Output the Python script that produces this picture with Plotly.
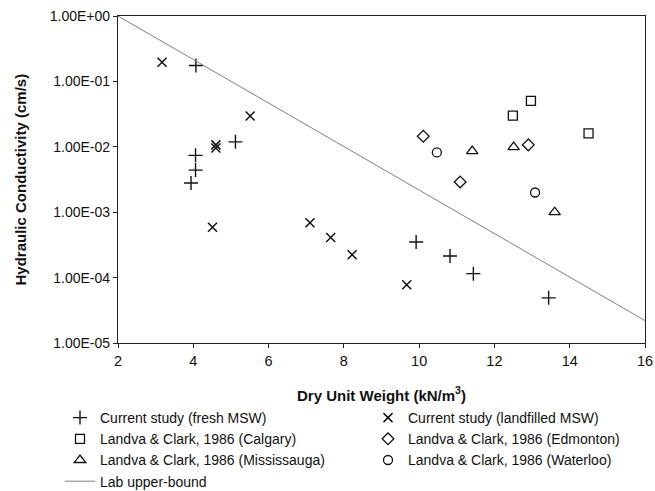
import plotly.graph_objects as go

# Data
fresh_x = [4.07, 4.06, 4.06, 3.94, 5.12, 9.92, 10.82, 11.44, 13.44]
fresh_y = [0.175, 0.0074, 0.0044, 0.0028, 0.0119, 3.5e-4, 2.14e-4, 1.15e-4, 4.9e-5]

landfilled_x = [3.17, 4.6, 4.6, 5.51, 4.51, 7.10, 7.65, 8.22, 9.67]
landfilled_y = [0.196, 0.0107, 0.0096, 0.0296, 5.9e-4, 6.9e-4, 4.1e-4, 2.24e-4, 7.8e-5]

calgary_x = [12.97, 12.49, 14.5]
calgary_y = [0.0505, 0.030, 0.016]

edmonton_x = [10.11, 12.90, 11.09]
edmonton_y = [0.0145, 0.0107, 0.0029]

mississauga_x = [11.41, 12.51, 13.6]
mississauga_y = [0.0086, 0.0099, 0.0010]

waterloo_x = [10.47, 13.08]
waterloo_y = [0.0082, 0.0020]

bound_x = [2, 16]
bound_y = [1.0, 2.2e-5]

y_tickvals = [1, 1e-1, 1e-2, 1e-3, 1e-4, 1e-5]
y_ticktext = ["1.00E+00", "1.00E-01", "1.00E-02", "1.00E-03", "1.00E-04", "1.00E-05"]
x_tickvals = [2, 4, 6, 8, 10, 12, 14, 16]

FONT = "Liberation Sans, Arial, sans-serif"
BLACK = "#111111"

W, H = 655, 491
ML, MR, MT, MB = 118, 10, 16, 148
PW = W - ML - MR

fig = go.Figure()

def add_pts(name, xs, ys, symbol, size, legend, lw=1.3):
    fig.add_trace(go.Scatter(
        x=xs, y=ys, mode="markers", name=name, legend=legend,
        marker=dict(symbol=symbol, size=size, color=BLACK,
                    line=dict(color=BLACK, width=lw)),
    ))

add_pts("Current study (fresh MSW)", fresh_x, fresh_y, "cross-thin-open", 10, "legend", 1.4)
add_pts("Current study (landfilled MSW)", landfilled_x, landfilled_y, "x-thin-open", 9, "legend2", 1.5)
add_pts("Landva & Clark, 1986 (Calgary)", calgary_x, calgary_y, "square-open", 9, "legend")
add_pts("Landva & Clark, 1986 (Edmonton)", edmonton_x, edmonton_y, "diamond-open", 9, "legend2")
add_pts("Landva & Clark, 1986 (Mississauga)", mississauga_x, mississauga_y, "triangle-up-open", 10, "legend")
add_pts("Landva & Clark, 1986 (Waterloo)", waterloo_x, waterloo_y, "circle-open", 9, "legend2")

fig.add_trace(go.Scatter(
    x=bound_x, y=bound_y, mode="lines", name="Lab upper-bound", legend="legend",
    line=dict(color="#808080", width=1),
))

leg_common = dict(
    orientation="v",
    xref="container", yref="container",
    xanchor="left", yanchor="top",
    font=dict(family=FONT, size=14, color=BLACK),
    bgcolor="rgba(0,0,0,0)",
    itemclick=False, itemdoubleclick=False,
    tracegroupgap=0,
)

fig.update_layout(
    width=W, height=H,
    margin=dict(l=ML, r=MR, t=MT, b=MB, autoexpand=False),
    paper_bgcolor="white", plot_bgcolor="white",
    font=dict(family=FONT, size=14, color=BLACK),
    showlegend=True,
    legend=dict(x=60 / W, y=1 - 402 / H, **leg_common),
    legend2=dict(x=368 / W, y=1 - 402 / H, **leg_common),
    xaxis=dict(
        range=[2, 16], tickvals=x_tickvals,
        showgrid=False, zeroline=False,
        showline=True, linecolor="#222222", linewidth=1.3, mirror=True,
        ticks="outside", ticklen=4, tickcolor="#222222",
        ticklabeloverflow="allow",
        tickfont=dict(family=FONT, size=14.5),
        title=dict(text="<b>Dry Unit Weight (kN/m<sup>3</sup>)</b>",
                   font=dict(family=FONT, size=15), standoff=22),
    ),
    yaxis=dict(
        type="log", range=[-5, 0],
        tickvals=y_tickvals, ticktext=y_ticktext,
        showgrid=False, zeroline=False,
        showline=True, linecolor="#222222", linewidth=1.3, mirror=True,
        ticks="outside", ticklen=4, tickcolor="#222222",
        ticklabeloverflow="allow",
        tickfont=dict(family=FONT, size=14),
    ),
    annotations=[dict(
        text="<b>Hydraulic Conductivity (cm/s)</b>",
        xref="paper", yref="paper",
        x=(20 - ML) / PW, y=0.5, xanchor="center", yanchor="middle",
        textangle=-90, showarrow=False,
        font=dict(family=FONT, size=15, color=BLACK),
    )],
)

fig.write_html(
    "out.html",
    config={"displayModeBar": False},
    post_script="document.body.style.margin='0';document.body.style.overflow='hidden';",
)
